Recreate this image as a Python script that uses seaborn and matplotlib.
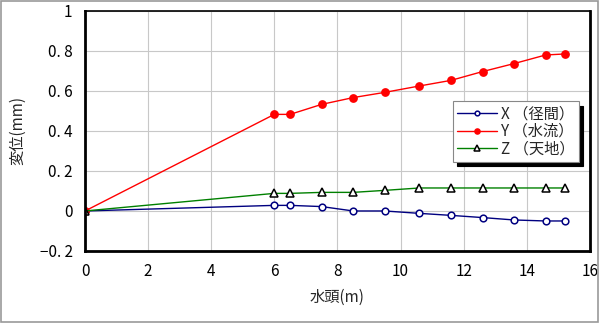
import matplotlib
matplotlib.use("Agg")
import matplotlib.pyplot as plt
import seaborn as sns
import pandas as pd
from matplotlib.patches import Rectangle

# Water head (m) and displacement (mm) per direction
head = [0, 6.0, 6.5, 7.5, 8.5, 9.5, 10.6, 11.6, 12.6, 13.6, 14.6, 15.2]
disp_x = [0, 0.028, 0.028, 0.022, 0.0, 0.0, -0.012, -0.022, -0.033, -0.045, -0.05, -0.05]
disp_y = [0, 0.483, 0.483, 0.533, 0.567, 0.593, 0.625, 0.653, 0.697, 0.737, 0.78, 0.785]
disp_z = [0, 0.088, 0.088, 0.093, 0.093, 0.103, 0.115, 0.115, 0.115, 0.115, 0.115, 0.115]

labels = ["X （径間）", "Y （水流）", "Z （天地）"]
x_ticks = [0, 2, 4, 6, 8, 10, 12, 14, 16]
y_ticks = [-0.2, 0, 0.2, 0.4, 0.6, 0.8, 1.0]
y_tick_labels = ["\u22120. 2", "0", "0. 2", "0. 4", "0. 6", "0. 8", "1"]

sns.set_theme(style="white")
plt.rcParams["font.family"] = ["Noto Sans CJK JP", "DejaVu Sans"]

df = pd.DataFrame({"head": head, "X": disp_x, "Y": disp_y, "Z": disp_z})

fig = plt.figure(figsize=(6.0, 3.23), dpi=100)
fig.patches.append(Rectangle((0.002, 0.003), 0.995, 0.993, transform=fig.transFigure,
                             fill=False, edgecolor="#999999", linewidth=1.2))
ax = fig.add_axes([0.1417, 0.223, 0.8413, 0.743])

styles = [
    ("X", "#000080", "o", "white", "#000080", 4.8),
    ("Y", "#ff0000", "o", "#ff0000", "#ff0000", 5.2),
    ("Z", "#008000", "^", "white", "black", 5.4),
]
for (col, color, mk, mfc, mec, ms), lab in zip(styles, labels):
    sns.lineplot(data=df, x="head", y=col, ax=ax, color=color, marker=mk,
                 markersize=ms, markerfacecolor=mfc, markeredgecolor=mec,
                 markeredgewidth=1.1, linewidth=1.0, label=lab)

ax.set_xlim(0, 16)
ax.set_ylim(-0.2, 1.0)
ax.set_xticks(x_ticks)
ax.set_yticks(y_ticks)
ax.set_yticklabels(y_tick_labels)
ax.grid(True, color="#c8c8c8", linewidth=0.8)
ax.set_axisbelow(True)
for side, sp in ax.spines.items():
    sp.set_visible(True)
    sp.set_color("black")
    sp.set_linewidth(2.0 if side in ("left", "bottom", "right") else 1.2)
ax.tick_params(axis="both", labelsize=11, length=0, pad=9, colors="black")
ax.set_xlabel("水頭(m)", fontsize=11, labelpad=6)
ax.set_ylabel("変位(mm)", fontsize=11, labelpad=10)

leg = ax.legend(loc="upper left", bbox_to_anchor=(0.714, 0.655), frameon=True,
                fancybox=False, shadow={"color": "black", "alpha": 1.0, "ox": 3, "oy": -3},
                fontsize=11, handlelength=2.6, borderpad=0.25, labelspacing=0.05,
                handletextpad=0.3, markerscale=0.7)
leg.get_frame().set_edgecolor("#888888")
leg.get_frame().set_linewidth(0.8)

fig.savefig("out.png", dpi=100)
